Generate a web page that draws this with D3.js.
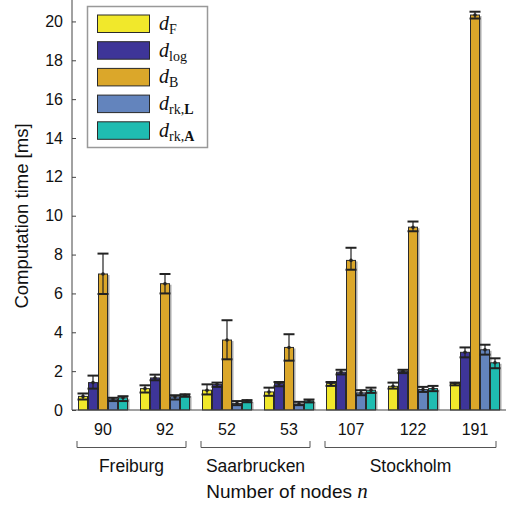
<!DOCTYPE html>
<html>
<head>
<meta charset="utf-8">
<script src="https://cdn.jsdelivr.net/npm/d3@7"></script>
<style>
  html, body { margin: 0; padding: 0; background: #fff; }
  svg { display: block; }
</style>
</head>
<body>
<svg id="chart" width="506" height="508"></svg>
<script>
// ---- data ----
const groups = ["90", "92", "52", "53", "107", "122", "191"];
const cities = ["Freiburg", "Saarbrucken", "Stockholm"];
const cityGroups = [["90", "92"], ["52", "53"], ["107", "122", "191"]];
const seriesNames = ["dF", "dlog", "dB", "drkL", "drkA"];
const seriesColors = ["#f1e82b", "#3e3598", "#dba72a", "#6384bd", "#1fbcb1"];

const dF      = [0.70, 1.10, 1.02, 0.93, 1.36, 1.22, 1.36];
const dF_lo   = [0.54, 0.90, 0.80, 0.73, 1.24, 1.10, 1.27];
const dF_hi   = [0.85, 1.27, 1.32, 1.15, 1.44, 1.41, 1.41];

const dlog    = [1.41, 1.65, 1.32, 1.36, 1.95, 2.00, 2.97];
const dlog_lo = [1.10, 1.53, 1.19, 1.22, 1.83, 1.90, 2.71];
const dlog_hi = [1.77, 1.82, 1.41, 1.44, 2.07, 2.07, 3.22];

const dB      = [7.00, 6.50, 3.60, 3.22, 7.70, 9.41, 20.33];
const dB_lo   = [5.97, 6.00, 2.61, 2.54, 7.22, 9.20, 20.15];
const dB_hi   = [8.05, 7.00, 4.62, 3.90, 8.35, 9.70, 20.50];

const drkL    = [0.56, 0.68, 0.34, 0.31, 0.88, 1.05, 3.10];
const drkL_lo = [0.46, 0.54, 0.25, 0.25, 0.76, 0.93, 2.85];
const drkL_hi = [0.63, 0.76, 0.46, 0.42, 1.02, 1.19, 3.36];

const drkA    = [0.63, 0.76, 0.46, 0.47, 1.02, 1.10, 2.43];
const drkA_lo = [0.46, 0.68, 0.40, 0.39, 0.88, 0.97, 2.15];
const drkA_hi = [0.71, 0.81, 0.51, 0.54, 1.15, 1.24, 2.66];

const yTicks = [0, 2, 4, 6, 8, 10, 12, 14, 16, 18, 20];

const means = [dF, dlog, dB, drkL, drkA];
const lows  = [dF_lo, dlog_lo, dB_lo, drkL_lo, drkA_lo];
const highs = [dF_hi, dlog_hi, dB_hi, drkL_hi, drkA_hi];

// ---- layout ----
const svg = d3.select("#chart");
const x0 = 72, x1 = 506, yBase = 410;
const x = d3.scaleBand().domain(groups).range([x0, x1]).paddingInner(0).paddingOuter(0);
const xs = d3.scaleBand().domain(seriesNames).range([6, 56]).padding(0);
const y = d3.scaleLinear().domain([0, 21]).range([yBase, 2]);

const sans = "'Liberation Sans', Arial, Helvetica, sans-serif";
const serif = "'Liberation Serif', 'Times New Roman', serif";

// bars
const records = [];
seriesNames.forEach((s, si) => {
  groups.forEach((g, gi) => {
    records.push({s, si, g, v: means[si][gi], lo: lows[si][gi], hi: highs[si][gi]});
  });
});

const plot = svg.append("g");
// shadows
plot.selectAll("rect.shadow").data(records).enter().append("rect")
  .attr("class", "shadow")
  .attr("x", d => x(d.g) + xs(d.s) + 1.5)
  .attr("y", d => y(d.v) + 1)
  .attr("width", xs.bandwidth())
  .attr("height", d => yBase - y(d.v) - 1)
  .attr("fill", "#aaa");
plot.selectAll("rect.bar").data(records).enter().append("rect")
  .attr("class", "bar")
  .attr("x", d => x(d.g) + xs(d.s) + 0.5)
  .attr("y", d => y(d.v))
  .attr("width", xs.bandwidth() - 1)
  .attr("height", d => yBase - y(d.v))
  .attr("fill", d => seriesColors[d.si])
  .attr("stroke", "#2a2a2a")
  .attr("stroke-width", 1);

// error bars
const eb = plot.selectAll("g.err").data(records).enter().append("g").attr("class", "err");
eb.append("line")
  .attr("x1", d => x(d.g) + xs(d.s) + xs.bandwidth() / 2)
  .attr("x2", d => x(d.g) + xs(d.s) + xs.bandwidth() / 2)
  .attr("y1", d => y(d.lo)).attr("y2", d => y(d.hi))
  .attr("stroke", "#222").attr("stroke-width", 1.2);
[["lo"], ["hi"]].forEach(([k]) => {
  eb.append("line")
    .attr("x1", d => x(d.g) + xs(d.s) - 0.5)
    .attr("x2", d => x(d.g) + xs(d.s) + xs.bandwidth() + 0.5)
    .attr("y1", d => y(d[k])).attr("y2", d => y(d[k]))
    .attr("stroke", "#222").attr("stroke-width", 2);
});
eb.append("circle")
  .attr("cx", d => x(d.g) + xs(d.s) + xs.bandwidth() / 2)
  .attr("cy", d => y(d.v))
  .attr("r", 1.8)
  .attr("fill", "#222");

// axes
const axisColor = "#444";
svg.append("line").attr("x1", x0).attr("x2", x0).attr("y1", 0).attr("y2", yBase)
  .attr("stroke", axisColor).attr("stroke-width", 1);
svg.append("line").attr("x1", x0).attr("x2", x1).attr("y1", yBase).attr("y2", yBase)
  .attr("stroke", axisColor).attr("stroke-width", 1);

const yAxis = svg.append("g").attr("transform", `translate(${x0},0)`)
  .call(d3.axisRight(y).tickValues(yTicks).tickSize(4).tickFormat(d3.format("d")));
yAxis.select(".domain").remove();
yAxis.selectAll(".tick line").attr("stroke", axisColor);
yAxis.selectAll(".tick text")
  .attr("x", -9).attr("text-anchor", "end")
  .attr("font-family", sans).attr("font-size", 16).attr("fill", "#111");

const xAxis = svg.append("g").attr("transform", `translate(0,${yBase})`)
  .call(d3.axisBottom(x).tickSize(0).tickPadding(14));
xAxis.select(".domain").remove();
xAxis.selectAll(".tick text")
  .attr("font-family", sans).attr("font-size", 16).attr("fill", "#111");

// city brackets
cities.forEach((c, ci) => {
  const gs = cityGroups[ci];
  const left = x(gs[0]) + 5;
  const right = x(gs[gs.length - 1]) + x.bandwidth() - 10;
  svg.append("path")
    .attr("d", `M${left},441 V447.5 H${right} V441`)
    .attr("fill", "none").attr("stroke", "#555").attr("stroke-width", 1);
  svg.append("text")
    .attr("x", (left + right) / 2).attr("y", 472)
    .attr("text-anchor", "middle")
    .attr("font-family", sans).attr("font-size", 17.5).attr("fill", "#111")
    .text(c);
});

// axis titles
const xt = svg.append("text").attr("x", 287).attr("y", 498).attr("text-anchor", "middle")
  .attr("font-family", sans).attr("font-size", 19).attr("fill", "#111");
xt.append("tspan").text("Number of nodes ");
xt.append("tspan").attr("font-family", serif).attr("font-style", "italic").attr("font-size", 21).text("n");

svg.append("text")
  .attr("transform", "translate(28,216) rotate(-90)")
  .attr("text-anchor", "middle")
  .attr("font-family", sans).attr("font-size", 18.5).attr("fill", "#111")
  .text("Computation time [ms]");

// legend
const legend = svg.append("g");
legend.append("rect").attr("x", 87.5).attr("y", 6.5).attr("width", 120).attr("height", 141)
  .attr("fill", "#fff").attr("stroke", "#999").attr("stroke-width", 1.5);
const subs = [
  [{t: "F"}],
  [{t: "log"}],
  [{t: "B"}],
  [{t: "rk,"}, {t: "L", b: true}],
  [{t: "rk,"}, {t: "A", b: true}]
];
seriesNames.forEach((s, i) => {
  const yy = 15 + i * 26.7;
  legend.append("rect").attr("x", 97.5).attr("y", yy).attr("width", 52).attr("height", 17.5)
    .attr("fill", seriesColors[i]).attr("stroke", "#2a2a2a").attr("stroke-width", 1);
  const t = legend.append("text").attr("x", 159).attr("y", yy + 15)
    .attr("font-family", serif).attr("font-size", 20).attr("fill", "#111");
  t.append("tspan").attr("font-style", "italic").text("d");
  subs[i].forEach((p, pi) => {
    const ts = t.append("tspan").attr("font-size", 14).text(p.t);
    if (pi === 0) ts.attr("dy", 4);
    if (p.b) ts.attr("font-weight", "bold");
  });
});
</script>
</body>
</html>
